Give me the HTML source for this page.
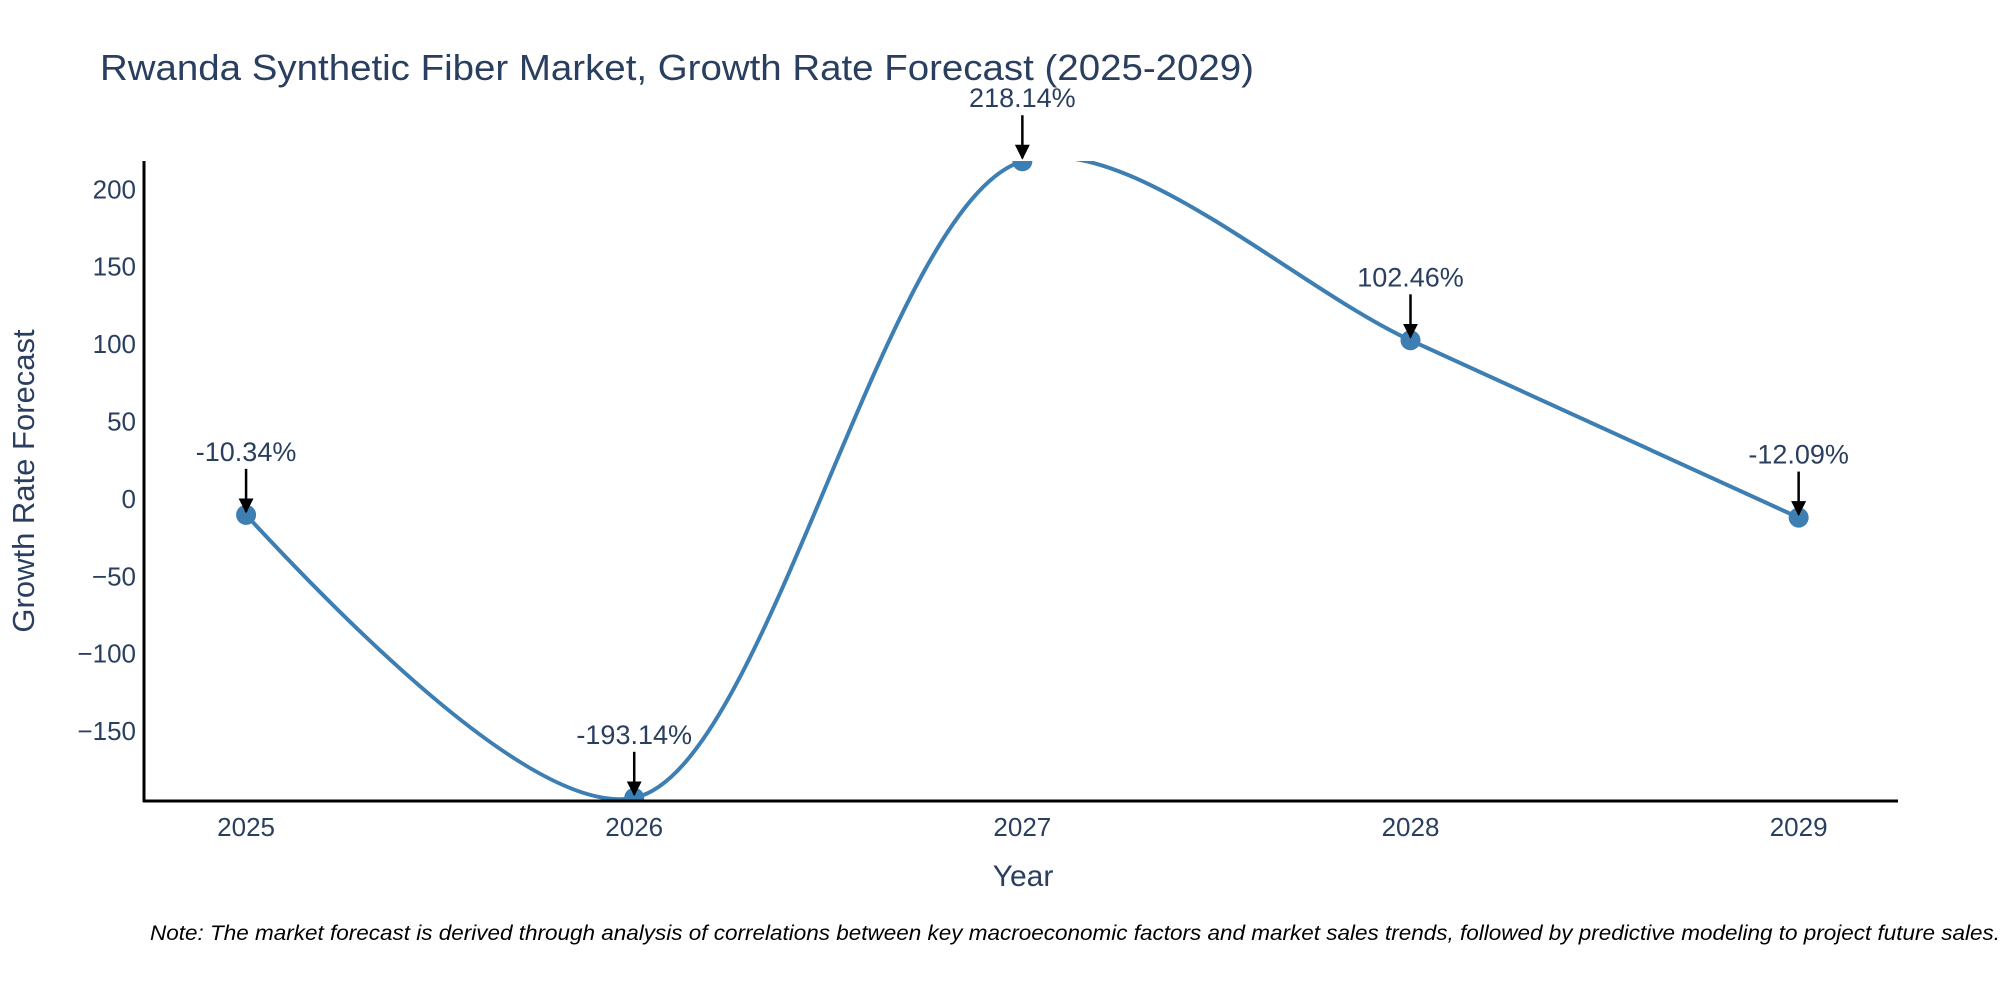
<!DOCTYPE html>
<html><head><meta charset="utf-8"><style>
html,body{margin:0;padding:0;background:#fff;}
svg{display:block;font-family:"Liberation Sans","DejaVu Sans",sans-serif;}
</style></head><body>
<svg id="chart" width="2000" height="1000" viewBox="0 0 2000 1000">
<defs>
<clipPath id="plotclip"><rect x="144" y="161" width="1754" height="640"/></clipPath>
<marker id="arrow" viewBox="0 0 10 10" refX="9" refY="5" markerWidth="6" markerHeight="6" orient="auto"><path d="M0,0 L10,5 L0,10 z" fill="#000"/></marker>
</defs>
<text x="100" y="80" font-size="36" fill="#2a3f5f" textLength="1154" lengthAdjust="spacingAndGlyphs">Rwanda Synthetic Fiber Market, Growth Rate Forecast (2025-2029)</text>
<g id="yticks"></g>
<g id="xticks"></g>
<g clip-path="url(#plotclip)" id="series"></g>
<line x1="144" y1="161" x2="144" y2="802" stroke="#000" stroke-width="3"/>
<line x1="143" y1="801" x2="1898" y2="801" stroke="#000" stroke-width="3"/>
<g id="annots"></g>
<text x="1023" y="886" font-size="30" fill="#2a3f5f" text-anchor="middle">Year</text>
<text transform="translate(34,481) rotate(-90)" font-size="31" fill="#2a3f5f" text-anchor="middle">Growth Rate Forecast</text>
<text x="150" y="940" font-size="21" font-style="italic" fill="#000" textLength="1850" lengthAdjust="spacingAndGlyphs">Note: The market forecast is derived through analysis of correlations between key macroeconomic factors and market sales trends, followed by predictive modeling to project future sales.</text>
</svg>
<script>
const years = [2025, 2026, 2027, 2028, 2029];
const growth = [-10.34, -193.14, 218.14, 102.46, -12.09];
const labels = ["-10.34%", "-193.14%", "218.14%", "102.46%", "-12.09%"];
const yTickValues = [-150, -100, -50, 0, 50, 100, 150, 200];
const NS = "http://www.w3.org/2000/svg";
const X0 = 144, X1 = 1898, Y0 = 801, Y1 = 161;
const xMin = 2024.737, xMax = 2029.256, yMin = -195.2, yMax = 218.3;
function xs(v){ return X0 + (v - xMin) / (xMax - xMin) * (X1 - X0); }
function ys(v){ return Y0 - (v - yMin) / (yMax - yMin) * (Y0 - Y1); }
function mk(tag, attrs, parent){ const e = document.createElementNS(NS, tag); for (const k in attrs) e.setAttribute(k, attrs[k]); parent.appendChild(e); return e; }
const yt = document.getElementById('yticks');
yTickValues.forEach(v => {
  const t = mk('text', {x: 136, y: ys(v) + 9, 'font-size': 26, fill: '#2a3f5f', 'text-anchor': 'end'}, yt);
  
  
  t.textContent = v < 0 ? '\u2212' + Math.abs(v) : String(v);
});
const xt = document.getElementById('xticks');
years.forEach(v => {
  const t = mk('text', {x: xs(v), y: 836, 'font-size': 26, fill: '#2a3f5f', 'text-anchor': 'middle'}, xt);
  
  
  t.textContent = String(v);
});
const pts = years.map((y, i) => [xs(y), ys(growth[i])]);
function tangent(p0, p1, p2, s){
  const dx1 = p1[0]-p0[0], dy1 = p1[1]-p0[1], dx2 = p2[0]-p1[0], dy2 = p2[1]-p1[1];
  const d1a = Math.pow(dx1*dx1+dy1*dy1, 0.25), d2a = Math.pow(dx2*dx2+dy2*dy2, 0.25);
  const numx = (d2a*d2a*dx1 + d1a*d1a*dx2)*s, numy = (d2a*d2a*dy1 + d1a*d1a*dy2)*s;
  const den1 = 3*d2a*(d1a+d2a), den2 = 3*d1a*(d1a+d2a);
  return [[p1[0]-numx/den1, p1[1]-numy/den1],[p1[0]+numx/den2, p1[1]+numy/den2]];
}
const tg = [];
for (let i = 1; i < pts.length-1; i++) tg.push(tangent(pts[i-1], pts[i], pts[i+1], 0.9));
let d = 'M' + pts[0] + 'Q' + tg[0][0] + ' ' + pts[1];
for (let i = 2; i < pts.length-1; i++) d += 'C' + tg[i-2][1] + ' ' + tg[i-1][0] + ' ' + pts[i];
d += 'Q' + tg[pts.length-3][1] + ' ' + pts[pts.length-1];
const sg = document.getElementById('series');
const line = mk('path', {d: d, fill: 'none', stroke: '#3d7eb3', 'stroke-width': 4}, sg);


pts.forEach(p => {
  const c = mk('circle', {cx: p[0], cy: p[1], r: 10, fill: '#3d7eb3'}, sg);
  
  
});
const ag = document.getElementById('annots');
pts.forEach((p, i) => {
  const a = mk('line', {x1: p[0], y1: p[1]-46, x2: p[0], y2: p[1]-3, stroke: '#000', 'stroke-width': 2.5, 'marker-end': 'url(#arrow)'}, ag);
  
  
  const t = mk('text', {x: p[0], y: p[1]-54, 'font-size': 27, fill: '#2a3f5f', 'text-anchor': 'middle'}, ag);
  
  
  t.textContent = labels[i];
});
</script>
</body></html>
